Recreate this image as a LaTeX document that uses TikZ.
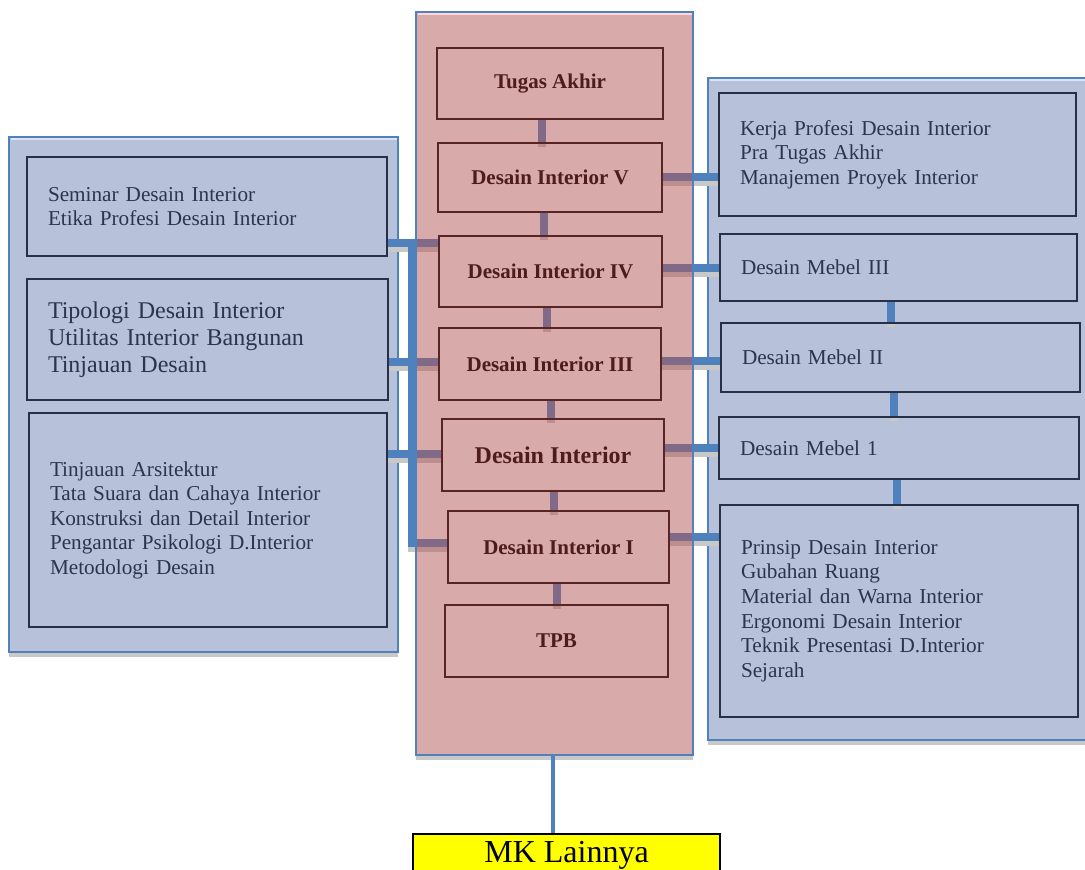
\documentclass[tikz,border=0pt]{standalone}
\usepackage{fontspec}
\setmainfont{Liberation Serif}
\definecolor{panelblue}{RGB}{183,193,217}
\definecolor{pinkbase}{RGB}{179,85,85}
\definecolor{edgeblue}{RGB}{79,129,189}
\definecolor{navy}{RGB}{40,48,70}
\definecolor{maroon}{RGB}{88,36,36}
\definecolor{shadowgray}{RGB}{200,200,200}
\definecolor{sidetext}{RGB}{44,52,78}
\definecolor{ctext}{RGB}{78,28,28}
\definecolor{mkyellow}{RGB}{255,255,0}
\definecolor{lightpink}{RGB}{255,212,212}
\definecolor{lightblue}{RGB}{218,228,246}
\newcommand\sidefont{\fontsize{15.9pt}{18.4pt}\selectfont}
\newcommand\bigsidefont{\fontsize{18pt}{20.4pt}\selectfont}
\newcommand\bx[7]{%
  \pgfmathsetmacro\bw{(#5-#3)*0.75}%
  \pgfmathsetmacro\bh{(#6-#4)*0.75}%
  \pgfmathsetmacro\tw{(#5-#3)*0.75-31.5}%
  \node[#1, minimum width=\bw pt, minimum height=\bh pt] (#2) at ({(#3+#5)/2},{(#4+#6)/2}) {#7};}
\pgfdeclarelayer{sidebg}
\pgfdeclarelayer{connl}
\pgfdeclarelayer{cpanel}
\pgfsetlayers{sidebg,connl,cpanel,main}
\begin{document}
\begin{tikzpicture}[x=0.75pt,y=-0.75pt,
  sidepanel/.style={fill=panelblue, draw=edgeblue, line width=1.5pt, inner sep=0pt},
  centerpanel/.style={fill=pinkbase, fill opacity=0.5, draw=edgeblue, draw opacity=1, line width=1.5pt, inner sep=0pt},
  sidebox/.style={draw=navy, line width=1.5pt, inner xsep=15.75pt, inner ysep=0pt, align=left, text width=\tw pt, text=sidetext, font=\sidefont},
  cbox/.style={draw=maroon, line width=1.5pt, inner sep=0pt, text=ctext, font=\fontsize{15.75pt}{18pt}\selectfont\bfseries},
  conn/.style={draw=edgeblue, line width=6pt, preaction={draw=shadowgray, line width=6pt, transform canvas={yshift=-3.5pt}}},
  mkbox/.style={fill=mkyellow, draw=black, line width=1.5pt, inner sep=0pt, font=\fontsize{24pt}{28pt}\selectfont},
  shadowstrip/.style={fill=shadowgray}
]
\useasboundingbox (0,0) rectangle (1085,870);

% side panels
\begin{pgfonlayer}{sidebg}
  \fill[shadowstrip] (9,652) rectangle (398,657);
  \fill[shadowstrip] (708,740) rectangle (1090,745);
  \fill[shadowstrip] (416,755) rectangle (693,760);
  \bx{sidepanel}{PL}{9}{137}{398}{652}{}
  \bx{sidepanel}{PR}{708}{78}{1092}{740}{}
  \draw[lightblue, line width=1.5pt] (10.5,139.5) -- (396.5,139.5);
  \draw[lightblue, line width=1.5pt] (709.5,80.5) -- (1090,80.5);
\end{pgfonlayer}

% center panel
\begin{pgfonlayer}{cpanel}
  \bx{centerpanel}{PC}{416}{12}{693}{755}{}
  \draw[lightpink, line width=1.5pt] (417.5,14.5) -- (691.5,14.5);
\end{pgfonlayer}

% center boxes
\bx{cbox}{TA}{437}{48}{663}{119}{Tugas Akhir}
\bx{cbox}{D5}{438}{143}{662}{212}{Desain Interior V}
\bx{cbox}{D4}{439}{236}{662}{307}{Desain Interior IV}
\bx{cbox}{D3}{439}{328}{661}{400}{Desain Interior III}
\bx{cbox, font=\fontsize{18pt}{21pt}\selectfont\bfseries}{D0}{442}{419}{664}{491}{Desain Interior}
\bx{cbox}{D1}{448}{511}{669}{583}{Desain Interior I}
\bx{cbox}{TPB}{445}{605}{668}{677}{TPB}

% left boxes
\bx{sidebox}{L1}{27}{157}{387}{256}{Seminar Desain Interior\\Etika Profesi Desain Interior}
\bx{sidebox, font=\bigsidefont}{L2}{27}{279}{388}{400}{Tipologi Desain Interior\\Utilitas Interior Bangunan\\Tinjauan Desain}
\bx{sidebox}{L3}{29}{413}{387}{627}{Tinjauan Arsitektur\\Tata Suara dan Cahaya Interior\\Konstruksi dan Detail Interior\\Pengantar Psikologi D.Interior\\Metodologi Desain}

% right boxes
\bx{sidebox}{R1}{719}{93}{1076}{216}{Kerja Profesi Desain Interior\\Pra Tugas Akhir\\Manajemen Proyek Interior}
\bx{sidebox}{R2}{720}{234}{1077}{301}{Desain Mebel III}
\bx{sidebox}{R3}{721}{323}{1080}{392}{Desain Mebel II}
\bx{sidebox}{R4}{719}{417}{1079}{479}{Desain Mebel 1}
\bx{sidebox}{R5}{720}{505}{1078}{717}{Prinsip Desain Interior\\Gubahan Ruang\\Material dan Warna Interior\\Ergonomi Desain Interior\\Teknik Presentasi D.Interior\\Sejarah}

% MK Lainnya
\bx{mkbox}{MK}{413}{834}{720}{876}{MK Lainnya}

% connectors
\begin{pgfonlayer}{connl}
  \draw[conn] (542,0 |- TA.south) -- (542,0 |- D5.north);
  \draw[conn] (544,0 |- D5.south) -- (544,0 |- D4.north);
  \draw[conn] (547,0 |- D4.south) -- (547,0 |- D3.north);
  \draw[conn] (551,0 |- D3.south) -- (551,0 |- D0.north);
  \draw[conn] (554,0 |- D0.south) -- (554,0 |- D1.north);
  \draw[conn] (557,0 |- D1.south) -- (557,0 |- TPB.north);
  \draw[conn] (D5.east |- 0,177) -- (R1.west |- 0,177);
  \draw[conn] (D4.east |- 0,268) -- (R2.west |- 0,268);
  \draw[conn] (D3.east |- 0,361) -- (R3.west |- 0,361);
  \draw[conn] (D0.east |- 0,448) -- (R4.west |- 0,448);
  \draw[conn] (D1.east |- 0,537) -- (R5.west |- 0,537);
  \draw[conn] (891,0 |- R2.south) -- (891,0 |- R3.north);
  \draw[conn] (894,0 |- R3.south) -- (894,0 |- R4.north);
  \draw[conn] (897,0 |- R4.south) -- (897,0 |- R5.north);
  \draw[conn] (L1.east |- 0,243) -- (D4.west |- 0,243);
  \draw[conn] (L2.east |- 0,362) -- (D3.west |- 0,362);
  \draw[conn] (L3.east |- 0,454) -- (D0.west |- 0,454);
  \coordinate (bustop) at (412,243);
  \coordinate (busbot) at (412,543);
  \draw[conn, line join=miter] (bustop) -- (busbot) -- (D1.west |- busbot);
\end{pgfonlayer}
\draw[edgeblue, line width=3.5pt] (553,0 |- PC.south) -- (553,0 |- MK.north);
\end{tikzpicture}
\end{document}
